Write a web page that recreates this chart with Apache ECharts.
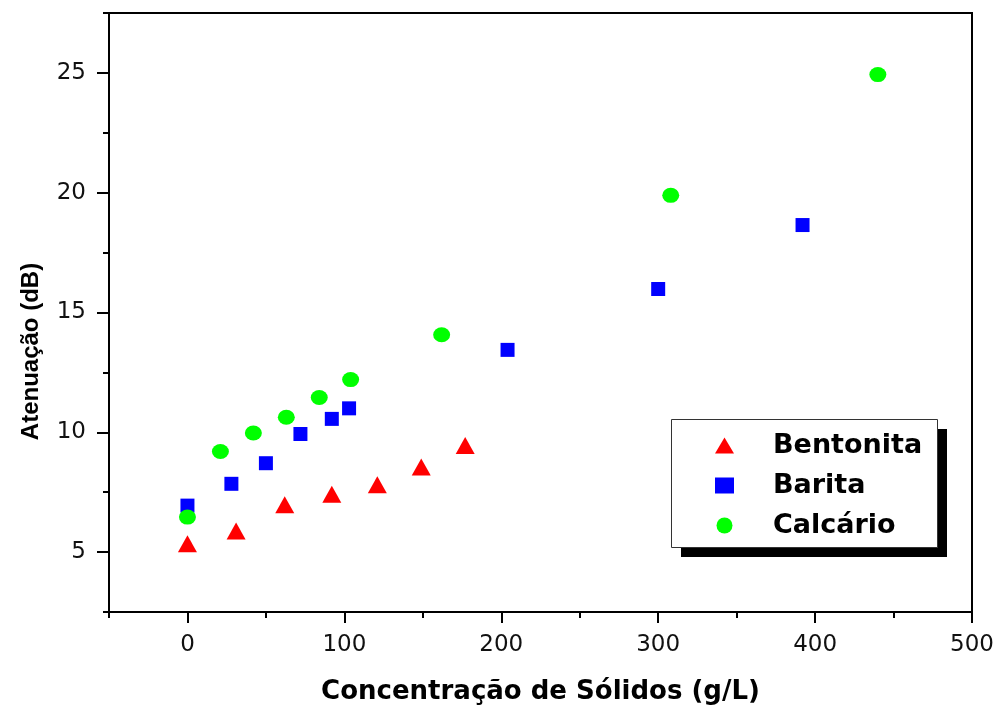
<!DOCTYPE html>
<html>
<head>
<meta charset="utf-8">
<script src="https://cdn.jsdelivr.net/npm/echarts@6/dist/echarts.min.js"></script>
<style>html,body{margin:0;padding:0;background:#fff}#c{width:996px;height:705px}</style>
</head>
<body>
<div id="c"></div>
<script>
const seriesNames = ['Bentonita', 'Barita', 'Calcário'];
const bentonitaX = [0, 31, 62, 92, 121, 149, 177];
const bentonitaY = [5.35, 5.88, 6.98, 7.41, 7.81, 8.55, 9.45];
const baritaX = [0, 28, 50, 72, 92, 103, 204, 300, 392];
const baritaY = [6.94, 7.85, 8.71, 9.93, 10.56, 11.0, 13.44, 15.98, 18.65];
const calcarioX = [0, 21, 42, 63, 84, 104, 162, 308, 440];
const calcarioY = [6.46, 9.2, 9.97, 10.63, 11.45, 12.2, 14.07, 19.89, 24.93];
const xMajorTicks = [0, 100, 200, 300, 400, 500];
const xMinorTicks = [-50, 50, 150, 250, 350, 450];
const yMajorTicks = [5, 10, 15, 20, 25];
const yMinorTicks = [2.5, 7.5, 12.5, 17.5, 22.5, 27.5];
const xTitle = 'Concentração de Sólidos (g/L)';
const yTitle = 'Atenuação (dB)';

const pair = (xs, ys) => xs.map((x, i) => [x, ys[i]]);
const FONT = "'DejaVu Sans', sans-serif";
const ARIAL = "Arial, 'Liberation Sans', sans-serif";

const chart = echarts.init(document.getElementById('c'), null, {renderer: 'canvas'});
const axisLineStyle = {color: '#000', width: 2};

chart.setOption({
  animation: false,
  backgroundColor: '#fff',
  grid: {left: 109, right: 24, top: 13, bottom: 93, containLabel: false, outerBoundsMode: 'none',
         show: true, borderColor: '#000', borderWidth: 2, backgroundColor: 'transparent'},
  xAxis: [
    {
      type: 'value', min: -50, max: 500, position: 'bottom',
      axisLine: {show: true, onZero: false, lineStyle: axisLineStyle},
      axisTick: {show: true, customValues: xMajorTicks, length: 11, lineStyle: {color: '#000', width: 2}},
      axisLabel: {customValues: xMajorTicks, margin: 22, color: '#111', fontFamily: FONT, fontSize: 23},
      splitLine: {show: false},
      name: xTitle, nameLocation: 'middle', nameGap: 67,
      nameTextStyle: {fontFamily: FONT, fontWeight: 'bold', fontSize: 26, color: '#000'}
    },
    {
      type: 'value', min: -50, max: 500, position: 'bottom',
      axisLine: {show: false, onZero: false},
      axisTick: {show: true, customValues: xMinorTicks, length: 6, lineStyle: {color: '#000', width: 2}},
      axisLabel: {show: false},
      splitLine: {show: false}
    }
  ],
  yAxis: [
    {
      type: 'value', min: 2.5, max: 27.5, position: 'left',
      axisLine: {show: true, onZero: false, lineStyle: axisLineStyle},
      axisTick: {show: true, customValues: yMajorTicks, length: 12, lineStyle: {color: '#000', width: 2}},
      axisLabel: {customValues: yMajorTicks, margin: 23, color: '#111', fontFamily: FONT, fontSize: 23},
      splitLine: {show: false},
      name: yTitle, nameLocation: 'middle', nameGap: 66, nameRotate: 90,
      nameTextStyle: {fontFamily: ARIAL, fontWeight: 'bold', fontSize: 24, color: '#000', padding: [0, 78, 0, 0]}
    },
    {
      type: 'value', min: 2.5, max: 27.5, position: 'left',
      axisLine: {show: false, onZero: false},
      axisTick: {show: true, customValues: yMinorTicks, length: 6, lineStyle: {color: '#000', width: 2}},
      axisLabel: {show: false},
      splitLine: {show: false}
    }
  ],
  legend: {
    orient: 'vertical', left: 715, top: 432, padding: 0, itemGap: 13,
    itemWidth: 19, itemHeight: 16, symbolKeepAspect: false, z: 20,
    data: seriesNames,
    textStyle: {fontFamily: FONT, fontWeight: 'bold', fontSize: 27, color: '#000', padding: [0, 0, 0, 34]}
  },
  graphic: [
    {type: 'rect', left: 681, top: 429, z: 10, shape: {width: 266, height: 128}, style: {fill: '#000'}},
    {type: 'rect', left: 671, top: 419, z: 11, shape: {width: 266, height: 128}, style: {fill: '#fff', stroke: '#333', lineWidth: 1}}
  ],
  series: [
    {name: seriesNames[0], type: 'scatter', symbol: 'triangle', symbolSize: [19, 17], itemStyle: {color: '#ff0000', opacity: 1}, data: pair(bentonitaX, bentonitaY)},
    {name: seriesNames[1], type: 'scatter', symbol: 'rect', symbolSize: [14, 14], itemStyle: {color: '#0000ff', opacity: 1}, data: pair(baritaX, baritaY)},
    {name: seriesNames[2], type: 'scatter', symbol: 'circle', symbolSize: [17, 15], itemStyle: {color: '#00ff00', opacity: 1}, data: pair(calcarioX, calcarioY)}
  ]
});
</script>
</body>
</html>
